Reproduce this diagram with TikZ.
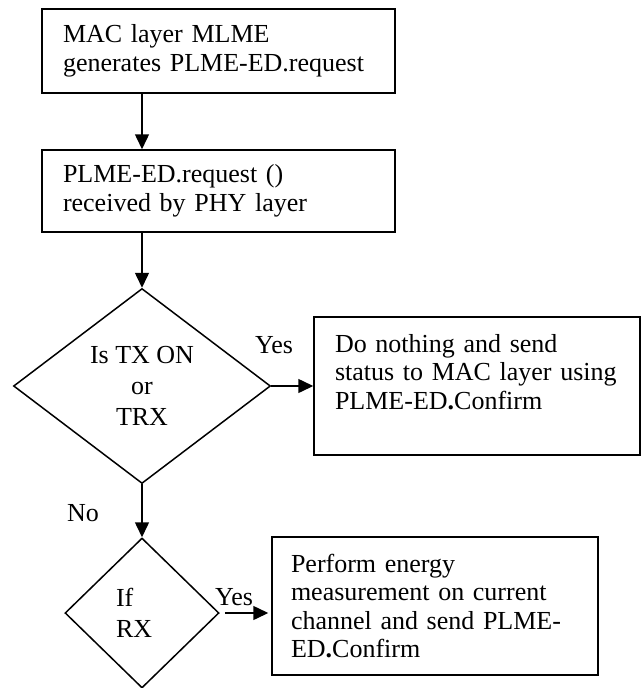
\documentclass[tikz,border=0pt]{standalone}
\usepackage{fontspec}
\setmainfont{Liberation Serif}
\usetikzlibrary{shapes.geometric,arrows.meta}
\begin{document}
\begin{tikzpicture}[x=1pt,y=-1pt,line width=1.5pt,
  blk/.style={draw, rectangle, inner ysep=0pt, align=left, font=\fontsize{26}{28.5}\selectfont},
  dec/.style={draw, diamond, inner sep=0pt, shape aspect=1.3, font=\fontsize{26}{31}\selectfont},
  lbl/.style={inner sep=0pt, font=\fontsize{26}{28.5}\selectfont},
  arr/.style={-{Triangle[length=15pt,width=14pt]}}]
\useasboundingbox (0,0) rectangle (644,688);
\node[blk, minimum width=353pt, minimum height=84pt, inner xsep=21pt, text width=311pt] (blk0) at (218.5,51){MAC layer MLME\\generates PLME-ED.request};
\node[blk, minimum width=353pt, minimum height=82pt, inner xsep=21pt, text width=311pt] (blk1) at (218.5,191){PLME-ED.request ()\\received by PHY layer};
\node[dec, minimum width=257pt, minimum height=195pt, align=center] (dec0) at (142,386){Is TX ON\\or\\TRX};
\node[blk, minimum width=326pt, minimum height=138pt, inner xsep=21pt, text width=284pt] (blk2) at (477,386){Do nothing and send\\status to MAC layer using\\PLME-ED\textbf{.}Confirm\\\mbox{}};
\node[dec, minimum width=154pt, minimum height=150pt, text width=52pt, align=left] (dec1) at (142,613){If\\RX};
\node[blk, minimum width=326pt, minimum height=138pt, inner xsep=19pt, text width=288pt] (blk3) at (435,606){Perform energy\\measurement on current\\channel and send PLME-\\ED\textbf{.}Confirm};
\node[lbl] (lbl0) at (274,345){Yes};
\node[lbl] (lbl1) at (83,513){No};
\node[lbl] (lbl2) at (234,597){Yes};
\draw[arr](blk0.south -| dec0.north) -- (blk1.north -| dec0.north);
\draw[arr](blk1.south -| dec0.north) -- (dec0.north);
\draw[arr](dec0.east) -- (dec0.east -| blk2.west);
\draw[arr](dec0.south) -- (dec1.north);
\draw[arr, shorten <=5pt, shorten >=3pt](dec1.east) -- (dec1.east -| blk3.west);
\end{tikzpicture}
\end{document}
